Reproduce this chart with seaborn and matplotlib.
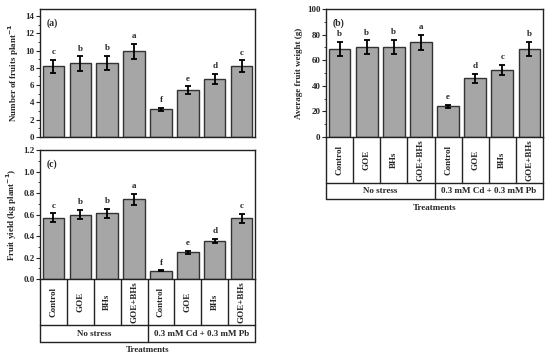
import numpy as np
import pandas as pd
import seaborn as sns
import matplotlib.pyplot as plt
from matplotlib.ticker import MultipleLocator, AutoMinorLocator

#---------------------------------data
treatments = ["Control", "GOE", "BHs", "GOE+BHs", "Control", "GOE", "BHs", "GOE+BHs"]
groups = ["No stress", "0.3 mM Cd + 0.3 mM Pb"]

fruits_num = [8.2, 8.5, 8.6, 9.9, 3.2, 5.4, 6.7, 8.2]
fruits_err = [0.75, 0.85, 0.8, 0.9, 0.2, 0.45, 0.6, 0.7]
fruits_let = ["c", "b", "b", "a", "f", "e", "d", "c"]

fruit_wt = [69, 70, 70.5, 74, 24, 46, 52.5, 69]
fruit_wt_err = [5.5, 5.5, 5.5, 6.0, 1.0, 3.5, 4.0, 5.5]
fruit_wt_let = ["b", "b", "b", "a", "e", "d", "c", "b"]

fruit_yield = [0.57, 0.60, 0.61, 0.74, 0.075, 0.25, 0.355, 0.565]
fruit_yield_err = [0.04, 0.045, 0.045, 0.055, 0.005, 0.015, 0.02, 0.04]
fruit_yield_let = ["c", "b", "b", "a", "f", "e", "d", "c"]

#---------------------------------style
sns.set_style("ticks")
plt.rcParams['font.family'] = ['Liberation Serif', 'DejaVu Serif']
plt.rcParams['font.weight'] = 'bold'
plt.rcParams['axes.linewidth'] = 1.0

fig = plt.figure(figsize=(5.5, 3.61), dpi=100)
ax_a = fig.add_axes([0.0727, 0.6205, 0.391, 0.3546])
ax_b = fig.add_axes([0.5927, 0.6205, 0.3946, 0.3546])
ax_c = fig.add_axes([0.0727, 0.2271, 0.391, 0.3573])

bar_color = "#a6a6a6"


def draw_panel(ax, vals, errs, lets, ylim, major, ylabel, tag, off):
    df = pd.DataFrame({"pos": list(range(len(vals))), "val": vals})
    sns.barplot(data=df, x="pos", y="val", ax=ax, color=bar_color,
                edgecolor="#333333", linewidth=1.0, width=0.8, saturation=1)
    ax.errorbar(range(len(vals)), vals, yerr=errs, fmt="none", ecolor="black",
                elinewidth=1.3, capsize=2.2, capthick=1.3)
    for i, (v, e, l) in enumerate(zip(vals, errs, lets)):
        ax.text(i, v + e + off, l, ha="center", va="bottom", fontsize=6.5, fontweight="bold")
    ax.set_xlim(-0.5, len(vals) - 0.5)
    ax.set_ylim(*ylim)
    ax.yaxis.set_major_locator(MultipleLocator(major))
    ax.yaxis.set_minor_locator(AutoMinorLocator(2))
    ax.tick_params(axis="y", labelsize=6.5, length=3, width=0.8, pad=1)
    ax.tick_params(axis="y", which="minor", length=1.8, width=0.6)
    ax.tick_params(axis="x", length=0, labelbottom=False)
    ax.set_xlabel("")
    ax.set_ylabel(ylabel, fontsize=6.5, fontweight="bold", labelpad=3)
    ax.text(0.03, 0.93, tag, transform=ax.transAxes, fontsize=7, fontweight="bold",
            va="top", ha="left")
    for s in ax.spines.values():
        s.set_visible(True)
        s.set_color("#222222")


def draw_table(ax, row1, row2, lab_y):
    tr = ax.get_xaxis_transform()
    n = len(treatments)
    kw = dict(color="#222222", lw=1.0, transform=tr, clip_on=False)
    for x in np.arange(-0.5, n, 1.0):
        ax.plot([x, x], [0, row1], **kw)
    for x in [-0.5, 3.5, 7.5]:
        ax.plot([x, x], [row1, row2], **kw)
    ax.plot([-0.5, n - 0.5], [row1, row1], **kw)
    ax.plot([-0.5, n - 0.5], [row2, row2], **kw)
    for i, t in enumerate(treatments):
        ax.text(i, row1 / 2, t, rotation=90, ha="center", va="center",
                fontsize=6.5, fontweight="bold", transform=tr)
    for g, xc in zip(groups, [1.5, 5.5]):
        ax.text(xc, (row1 + row2) / 2, g, ha="center", va="center",
                fontsize=6.5, fontweight="bold", transform=tr)
    ax.text(3.5, lab_y, "Treatments", ha="center", va="center",
            fontsize=6.5, fontweight="bold", transform=tr)


draw_panel(ax_a, fruits_num, fruits_err, fruits_let, (0, 14.8), 2,
           "Number of fruits plant$^{-1}$", "(a)", 0.4)
draw_panel(ax_b, fruit_wt, fruit_wt_err, fruit_wt_let, (0, 100), 20,
           "Average fruit weight (g)", "(b)", 3)
draw_panel(ax_c, fruit_yield, fruit_yield_err, fruit_yield_let, (0, 1.2), 0.2,
           "Fruit yield (kg plant$^{-1}$)", "(c)", 0.035)
ax_c.yaxis.set_major_formatter(plt.FormatStrFormatter("%.1f"))

draw_table(ax_b, -0.36, -0.485, -0.555)
draw_table(ax_c, -0.357, -0.488, -0.55)

fig.savefig("out.png", dpi=100)
